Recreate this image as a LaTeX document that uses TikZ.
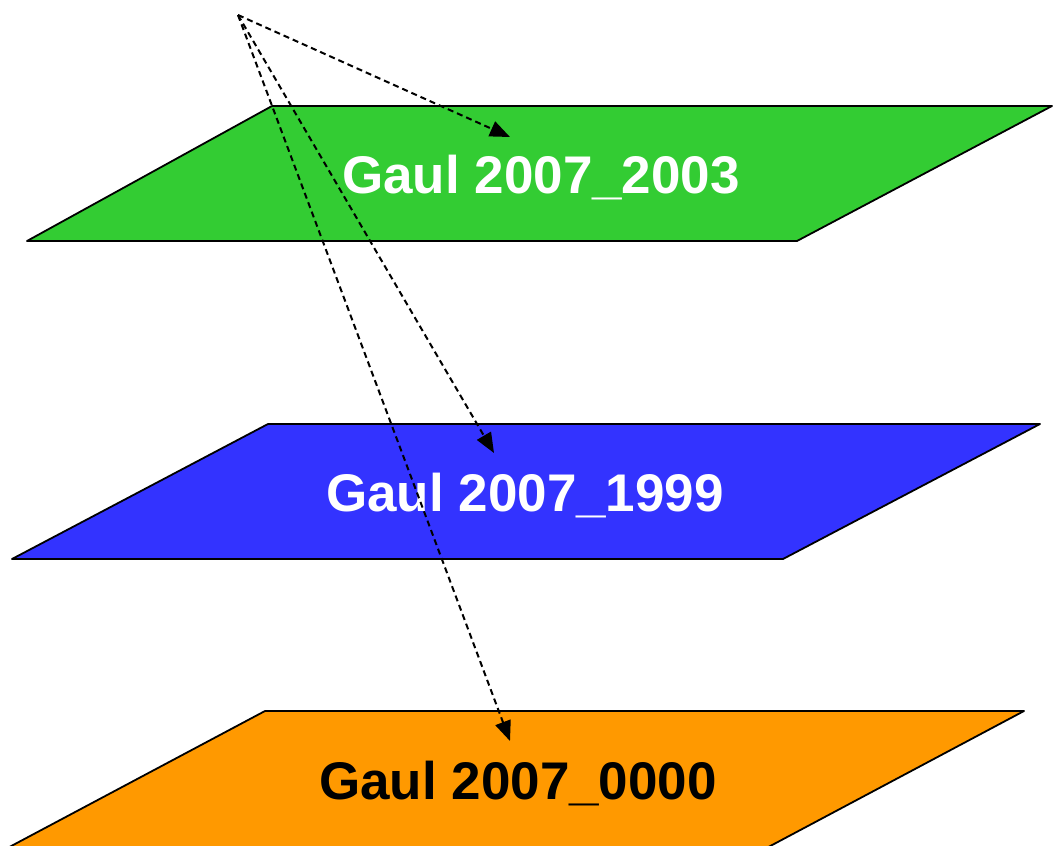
\documentclass[tikz,border=0pt]{standalone}
\usepackage{fontspec}
\setmainfont{Liberation Sans}
\usetikzlibrary{arrows.meta}
\definecolor{lgreen}{HTML}{33CC33}
\definecolor{lblue}{HTML}{3333FF}
\definecolor{lorange}{HTML}{FF9900}
\begin{document}
\begin{tikzpicture}[x=1pt,y=-1pt,
  plane/.style={draw=black,line width=1.8pt,line join=round},
  lbl/.style={anchor=base,font=\fontsize{53}{60}\selectfont\bfseries,inner sep=0pt},
  link/.style={line width=2pt,dash pattern=on 6pt off 4pt,-{Triangle[length=20pt,width=16pt]}}]
\useasboundingbox (0,0) rectangle (1053,846);
\begin{scope}
\clip (0,0) rectangle (1053,846);
\fill[lgreen,plane] (272,106) -- (1052,106) -- (797,241) -- (27,241) -- cycle;
\fill[lblue,plane] (268,424) -- (1040,424) -- (783,559) -- (12,559) -- cycle;
\fill[lorange,plane] (265,711) -- (1024,711) -- (759,852) -- (0,852) -- cycle;
\end{scope}
\node[lbl,text=white] (t1) at (541,193) {Gaul 2007\_2003};
\node[lbl,text=white] (t2) at (525,511) {Gaul 2007\_1999};
\node[lbl,text=black] (t3) at (518,799) {Gaul 2007\_0000};
\coordinate (src) at (238,15);
\coordinate (a1) at (510,137);
\coordinate (a2) at (494,453);
\coordinate (a3) at (510,741);
\draw[link] (src) -- (a1);
\draw[link] (src) -- (a2);
\draw[link] (src) -- (a3);
\end{tikzpicture}
\end{document}
